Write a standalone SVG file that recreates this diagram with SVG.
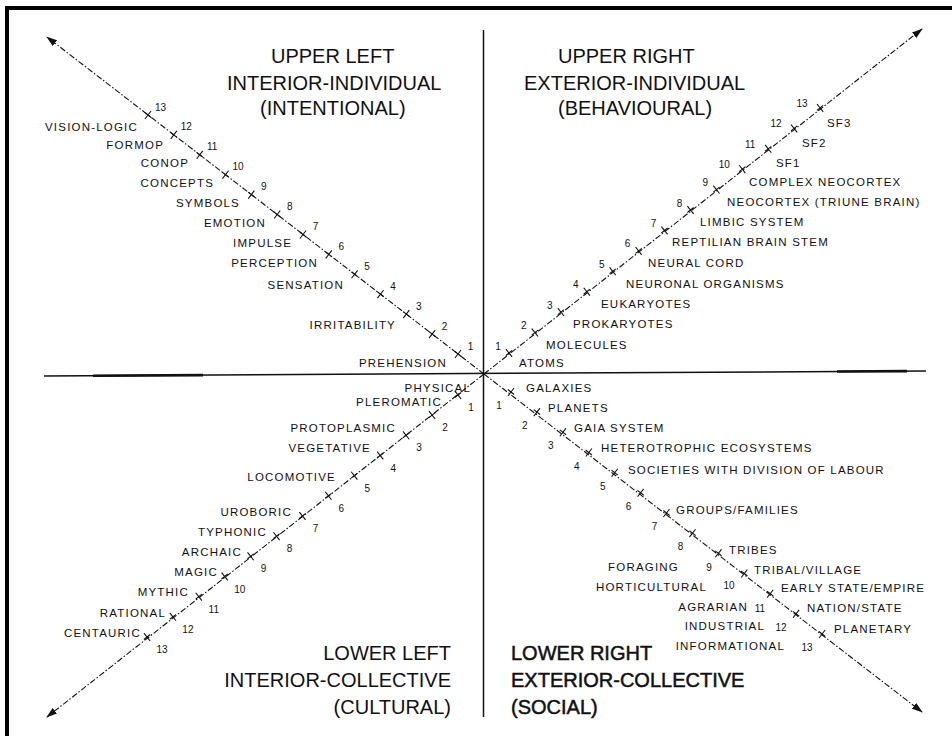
<svg xmlns="http://www.w3.org/2000/svg" xmlns:xlink="http://www.w3.org/1999/xlink" width="952" height="736" viewBox="0 0 952 736">
<style>
text{font-family:"Liberation Sans",Arial,"DejaVu Sans",sans-serif;fill:#111}
.hdr{font-size:20px}
.hb{stroke:#111;stroke-width:0.5}
.lbl{font-size:11.5px;letter-spacing:1.2px}
.num{font-size:10px;text-anchor:middle}
.e{text-anchor:end}
.ax{fill:none;stroke:#111;stroke-width:1.1;stroke-dasharray:6 2 1.5 2}
.sol{fill:none;stroke:#111;stroke-width:1.5}
.tk{fill:none;stroke:#111;stroke-width:1.1}
</style>
<defs>
<marker id="ah" viewBox="0 0 11 7" refX="10" refY="3.5" markerWidth="11" markerHeight="7" markerUnits="userSpaceOnUse" orient="auto">
<path d="M0,0 L11,3.5 L0,7 Z" fill="#111"/>
</marker>
<path id="tk" class="tk" d="M-4,0H4M0,-5V5"/>
</defs>
<rect width="952" height="736" fill="#fff"/>
<g id="frame">
<line x1="5" y1="8" x2="952" y2="8" stroke="#000" stroke-width="4"/>
<line x1="7" y1="6" x2="7" y2="736" stroke="#000" stroke-width="4"/>
</g>
<g id="connectors">
<line class="sol" x1="44" y1="376" x2="926" y2="371"/>
<line x1="93" y1="375.7" x2="203" y2="375.1" stroke="#111" stroke-width="2.6"/>
<line x1="837" y1="371.5" x2="907" y2="371.1" stroke="#111" stroke-width="2.6"/>
<line class="sol" x1="483.5" y1="30" x2="483.5" y2="717"/>
<line class="ax" x1="484" y1="374" x2="47" y2="37" marker-end="url(#ah)"/>
<line class="ax" x1="484" y1="374" x2="922" y2="29" marker-end="url(#ah)"/>
<line class="ax" x1="484" y1="374" x2="47" y2="717" marker-end="url(#ah)"/>
<line class="ax" x1="484" y1="374" x2="922" y2="712" marker-end="url(#ah)"/>
<g id="ticks-ul">
<use xlink:href="#tk" transform="translate(458 354) rotate(37.6)"/>
<use xlink:href="#tk" transform="translate(432.1 334.1) rotate(37.6)"/>
<use xlink:href="#tk" transform="translate(406.3 314.1) rotate(37.6)"/>
<use xlink:href="#tk" transform="translate(380.5 294.2) rotate(37.6)"/>
<use xlink:href="#tk" transform="translate(354.6 274.3) rotate(37.6)"/>
<use xlink:href="#tk" transform="translate(328.8 254.4) rotate(37.6)"/>
<use xlink:href="#tk" transform="translate(303 234.5) rotate(37.6)"/>
<use xlink:href="#tk" transform="translate(277.2 214.5) rotate(37.6)"/>
<use xlink:href="#tk" transform="translate(251.3 194.6) rotate(37.6)"/>
<use xlink:href="#tk" transform="translate(225.5 174.7) rotate(37.6)"/>
<use xlink:href="#tk" transform="translate(199.7 154.8) rotate(37.6)"/>
<use xlink:href="#tk" transform="translate(173.8 134.9) rotate(37.6)"/>
<use xlink:href="#tk" transform="translate(148 115) rotate(37.6)"/>
</g>
<g id="ticks-ur">
<use xlink:href="#tk" transform="translate(509 353) rotate(-38.2)"/>
<use xlink:href="#tk" transform="translate(534.9 332.6) rotate(-38.2)"/>
<use xlink:href="#tk" transform="translate(560.9 312.1) rotate(-38.2)"/>
<use xlink:href="#tk" transform="translate(586.8 291.7) rotate(-38.2)"/>
<use xlink:href="#tk" transform="translate(612.7 271.3) rotate(-38.2)"/>
<use xlink:href="#tk" transform="translate(638.6 250.9) rotate(-38.2)"/>
<use xlink:href="#tk" transform="translate(664.5 230.5) rotate(-38.2)"/>
<use xlink:href="#tk" transform="translate(690.5 210) rotate(-38.2)"/>
<use xlink:href="#tk" transform="translate(716.4 189.6) rotate(-38.2)"/>
<use xlink:href="#tk" transform="translate(742.3 169.2) rotate(-38.2)"/>
<use xlink:href="#tk" transform="translate(768.2 148.8) rotate(-38.2)"/>
<use xlink:href="#tk" transform="translate(794.1 128.4) rotate(-38.2)"/>
<use xlink:href="#tk" transform="translate(820.1 107.9) rotate(-38.2)"/>
</g>
<g id="ticks-ll">
<use xlink:href="#tk" transform="translate(458 395) rotate(-38.2)"/>
<use xlink:href="#tk" transform="translate(432.1 415.1) rotate(-38.2)"/>
<use xlink:href="#tk" transform="translate(406.1 435.3) rotate(-38.2)"/>
<use xlink:href="#tk" transform="translate(380.2 455.5) rotate(-38.2)"/>
<use xlink:href="#tk" transform="translate(354.3 475.7) rotate(-38.2)"/>
<use xlink:href="#tk" transform="translate(328.4 495.8) rotate(-38.2)"/>
<use xlink:href="#tk" transform="translate(302.5 516) rotate(-38.2)"/>
<use xlink:href="#tk" transform="translate(276.5 536.2) rotate(-38.2)"/>
<use xlink:href="#tk" transform="translate(250.6 556.3) rotate(-38.2)"/>
<use xlink:href="#tk" transform="translate(224.7 576.5) rotate(-38.2)"/>
<use xlink:href="#tk" transform="translate(198.8 596.7) rotate(-38.2)"/>
<use xlink:href="#tk" transform="translate(172.9 616.8) rotate(-38.2)"/>
<use xlink:href="#tk" transform="translate(147 637) rotate(-38.2)"/>
</g>
<g id="ticks-lr">
<use xlink:href="#tk" transform="translate(511 392) rotate(37.6)"/>
<use xlink:href="#tk" transform="translate(536.9 412.1) rotate(37.6)"/>
<use xlink:href="#tk" transform="translate(562.9 432.3) rotate(37.6)"/>
<use xlink:href="#tk" transform="translate(588.8 452.5) rotate(37.6)"/>
<use xlink:href="#tk" transform="translate(614.7 472.7) rotate(37.6)"/>
<use xlink:href="#tk" transform="translate(640.6 492.8) rotate(37.6)"/>
<use xlink:href="#tk" transform="translate(666.5 513) rotate(37.6)"/>
<use xlink:href="#tk" transform="translate(692.5 533.2) rotate(37.6)"/>
<use xlink:href="#tk" transform="translate(718.4 553.3) rotate(37.6)"/>
<use xlink:href="#tk" transform="translate(744.3 573.5) rotate(37.6)"/>
<use xlink:href="#tk" transform="translate(770.2 593.7) rotate(37.6)"/>
<use xlink:href="#tk" transform="translate(796.1 613.8) rotate(37.6)"/>
<use xlink:href="#tk" transform="translate(822.1 634) rotate(37.6)"/>
</g>
</g>
<g id="hdr-ul" class="hdr">
<text class="hdr" x="271" y="63">UPPER LEFT</text>
<text class="hdr" x="227" y="90">INTERIOR-INDIVIDUAL</text>
<text class="hdr" x="260" y="115">(INTENTIONAL)</text>
</g>
<g id="hdr-ur">
<text class="hdr" x="558" y="63">UPPER RIGHT</text>
<text class="hdr" x="524" y="90">EXTERIOR-INDIVIDUAL</text>
<text class="hdr" x="558" y="115">(BEHAVIOURAL)</text>
</g>
<g id="hdr-ll">
<text class="hdr e" x="451" y="660">LOWER LEFT</text>
<text class="hdr e" x="451" y="687">INTERIOR-COLLECTIVE</text>
<text class="hdr e" x="451" y="714">(CULTURAL)</text>
</g>
<g id="hdr-lr">
<text class="hdr hb" x="511" y="660">LOWER RIGHT</text>
<text class="hdr hb" x="511" y="687">EXTERIOR-COLLECTIVE</text>
<text class="hdr hb" x="511" y="714">(SOCIAL)</text>
</g>
<g id="labels-ul">
<text class="lbl e" x="138" y="131">VISION-LOGIC</text>
<text class="lbl e" x="164" y="149">FORMOP</text>
<text class="lbl e" x="189" y="167">CONOP</text>
<text class="lbl e" x="214" y="187">CONCEPTS</text>
<text class="lbl e" x="240" y="207">SYMBOLS</text>
<text class="lbl e" x="266" y="227">EMOTION</text>
<text class="lbl e" x="292" y="247">IMPULSE</text>
<text class="lbl e" x="318" y="267">PERCEPTION</text>
<text class="lbl e" x="344" y="289">SENSATION</text>
<text class="lbl e" x="396" y="329">IRRITABILITY</text>
<text class="lbl e" x="447" y="367">PREHENSION</text>
</g>
<g id="nums-ul">
<text class="num" x="470.5" y="349.5">1</text>
<text class="num" x="444.6" y="329.6">2</text>
<text class="num" x="418.8" y="309.6">3</text>
<text class="num" x="393" y="289.7">4</text>
<text class="num" x="367.1" y="269.8">5</text>
<text class="num" x="341.3" y="249.9">6</text>
<text class="num" x="315.5" y="230">7</text>
<text class="num" x="289.7" y="210">8</text>
<text class="num" x="263.8" y="190.1">9</text>
<text class="num" x="238" y="170.2">10</text>
<text class="num" x="212.2" y="150.3">11</text>
<text class="num" x="186.3" y="130.4">12</text>
<text class="num" x="160.5" y="110.5">13</text>
</g>
<g id="labels-ur">
<text class="lbl" x="519" y="367">ATOMS</text>
<text class="lbl" x="546" y="349">MOLECULES</text>
<text class="lbl" x="573" y="328">PROKARYOTES</text>
<text class="lbl" x="601" y="308">EUKARYOTES</text>
<text class="lbl" x="626" y="288">NEURONAL ORGANISMS</text>
<text class="lbl" x="648" y="267">NEURAL CORD</text>
<text class="lbl" x="672" y="246">REPTILIAN BRAIN STEM</text>
<text class="lbl" x="700" y="226">LIMBIC SYSTEM</text>
<text class="lbl" x="727" y="206">NEOCORTEX (TRIUNE BRAIN)</text>
<text class="lbl" x="749" y="186">COMPLEX NEOCORTEX</text>
<text class="lbl" x="776" y="167">SF1</text>
<text class="lbl" x="802" y="147">SF2</text>
<text class="lbl" x="827" y="127">SF3</text>
</g>
<g id="nums-ur">
<text class="num" x="498" y="349.5">1</text>
<text class="num" x="523.9" y="329.1">2</text>
<text class="num" x="549.9" y="308.6">3</text>
<text class="num" x="575.8" y="288.2">4</text>
<text class="num" x="601.7" y="267.8">5</text>
<text class="num" x="627.6" y="247.4">6</text>
<text class="num" x="653.5" y="227">7</text>
<text class="num" x="679.5" y="206.5">8</text>
<text class="num" x="705.4" y="186.1">9</text>
<text class="num" x="724.3" y="168.2">10</text>
<text class="num" x="750.2" y="147.8">11</text>
<text class="num" x="776.1" y="127.4">12</text>
<text class="num" x="802.1" y="106.9">13</text>
</g>
<g id="labels-ll">
<text class="lbl e" x="471" y="392">PHYSICAL</text>
<text class="lbl e" x="442" y="406">PLEROMATIC</text>
<text class="lbl e" x="396" y="432">PROTOPLASMIC</text>
<text class="lbl e" x="371" y="452">VEGETATIVE</text>
<text class="lbl e" x="336" y="481">LOCOMOTIVE</text>
<text class="lbl e" x="292" y="516">UROBORIC</text>
<text class="lbl e" x="267" y="536">TYPHONIC</text>
<text class="lbl e" x="242" y="556">ARCHAIC</text>
<text class="lbl e" x="218" y="576">MAGIC</text>
<text class="lbl e" x="189" y="596">MYTHIC</text>
<text class="lbl e" x="166" y="617">RATIONAL</text>
<text class="lbl e" x="141" y="637">CENTAURIC</text>
</g>
<g id="nums-ll">
<text class="num" x="471" y="411">1</text>
<text class="num" x="445.1" y="431.1">2</text>
<text class="num" x="419.1" y="451.3">3</text>
<text class="num" x="393.2" y="471.5">4</text>
<text class="num" x="367.3" y="491.7">5</text>
<text class="num" x="341.4" y="511.8">6</text>
<text class="num" x="315.5" y="532">7</text>
<text class="num" x="289.5" y="552.2">8</text>
<text class="num" x="263.6" y="572.3">9</text>
<text class="num" x="239.7" y="592.5">10</text>
<text class="num" x="213.8" y="612.7">11</text>
<text class="num" x="187.9" y="632.8">12</text>
<text class="num" x="162" y="653">13</text>
</g>
<g id="labels-lr">
<text class="lbl" x="526" y="392">GALAXIES</text>
<text class="lbl" x="548" y="412">PLANETS</text>
<text class="lbl" x="574" y="432">GAIA SYSTEM</text>
<text class="lbl" x="601" y="452">HETEROTROPHIC ECOSYSTEMS</text>
<text class="lbl" x="628" y="474">SOCIETIES WITH DIVISION OF LABOUR</text>
<text class="lbl" x="676" y="514">GROUPS/FAMILIES</text>
<text class="lbl" x="729" y="554">TRIBES</text>
<text class="lbl" x="754" y="574">TRIBAL/VILLAGE</text>
<text class="lbl" x="781" y="592">EARLY STATE/EMPIRE</text>
<text class="lbl" x="807" y="612">NATION/STATE</text>
<text class="lbl" x="834" y="633">PLANETARY</text>
<text class="lbl e" x="679" y="571">FORAGING</text>
<text class="lbl e" x="707" y="591">HORTICULTURAL</text>
<text class="lbl e" x="748" y="611">AGRARIAN</text>
<text class="lbl e" x="765" y="630">INDUSTRIAL</text>
<text class="lbl e" x="785" y="650">INFORMATIONAL</text>
</g>
<g id="nums-lr">
<text class="num" x="499" y="409">1</text>
<text class="num" x="524.9" y="429.1">2</text>
<text class="num" x="550.9" y="449.3">3</text>
<text class="num" x="576.8" y="469.5">4</text>
<text class="num" x="602.7" y="489.7">5</text>
<text class="num" x="628.6" y="509.8">6</text>
<text class="num" x="654.5" y="530">7</text>
<text class="num" x="680.5" y="550.2">8</text>
<text class="num" x="709" y="570.5">9</text>
<text class="num" x="729" y="588.5">10</text>
<text class="num" x="760" y="611.5">11</text>
<text class="num" x="781" y="630.5">12</text>
<text class="num" x="807" y="650.5">13</text>
</g>
</svg>
